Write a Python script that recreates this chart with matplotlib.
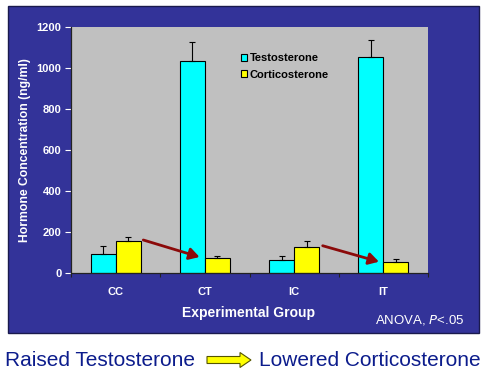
import matplotlib
matplotlib.use("Agg")
import matplotlib.pyplot as plt
import numpy as np
from matplotlib.patches import Rectangle, FancyArrow

groups = ["CC", "CT", "IC", "IT"]
testosterone = [93, 1036, 65, 1052]
testosterone_err = [40, 92, 20, 86]
corticosterone = [155, 73, 127, 54]
corticosterone_err = [21, 11, 28, 16]
yticks = [0, 200, 400, 600, 800, 1000, 1200]
# red trend arrows (start x, start y, end x, end y) in data units
trend_arrows = [(0.31, 161, 0.94, 78), (2.32, 133, 2.95, 55)]

plt.rcParams['font.family'] = ['Liberation Sans', 'DejaVu Sans']

fig = plt.figure(figsize=(4.87, 3.8), dpi=100)
fig.patch.set_facecolor('white')

panel = Rectangle((8/487, 47/380), 471/487, 327/380, transform=fig.transFigure,
                  facecolor='#333399', edgecolor='#1a1a4d', linewidth=1, zorder=-10)
fig.patches.append(panel)

ax = fig.add_axes([71/487, 107/380, 357/487, 246/380])
ax.set_zorder(5)
ax.set_facecolor('#c0c0c0')

x = np.arange(len(groups))
w = 0.28
ax.bar(x - w/2, testosterone, w, color='#00ffff', edgecolor='black', linewidth=0.8,
       yerr=[[0]*4, testosterone_err], error_kw=dict(ecolor='black', elinewidth=0.8, capsize=2.5, capthick=0.8),
       label='Testosterone', zorder=2)
ax.bar(x + w/2, corticosterone, w, color='#ffff00', edgecolor='black', linewidth=0.8,
       yerr=[[0]*4, corticosterone_err], error_kw=dict(ecolor='black', elinewidth=0.8, capsize=2.5, capthick=0.8),
       label='Corticosterone', zorder=2)

for (x0, y0, x1, y1) in trend_arrows:
    ax.annotate('', xy=(x1, y1), xytext=(x0, y0),
                arrowprops=dict(arrowstyle='-|>,head_length=0.6,head_width=0.35', color='#8b0a0a', lw=2.0,
                                shrinkA=0, shrinkB=0), zorder=3)

ax.set_xlim(-0.5, 3.5)
ax.set_ylim(0, 1200)
ax.set_yticks(yticks)
ax.set_yticklabels([str(v) for v in yticks], color='white', fontweight='bold', fontsize=8)
ax.tick_params(axis='y', colors='white', length=4, width=0.8, labelcolor='white', pad=3)
ax.set_xticks(x)
ax.set_xticklabels(groups, color='white', fontweight='bold', fontsize=8)
ax.tick_params(axis='x', which='major', length=0, pad=10, labelcolor='white')
ax.set_xticks([-0.5, 0.5, 1.5, 2.5, 3.5], minor=True)
ax.tick_params(axis='x', which='minor', length=3, width=0.8, color='#222222')

for s in ['top', 'right']:
    ax.spines[s].set_visible(False)
for s in ['left', 'bottom']:
    ax.spines[s].set_color('#222222')
    ax.spines[s].set_linewidth(0.9)

ax.set_ylabel('Hormone Concentration (ng/ml)', color='white', fontweight='bold', fontsize=8.7, labelpad=4)

leg = ax.legend(loc='upper left', bbox_to_anchor=(0.46, 0.915), frameon=False,
                prop=dict(weight='bold', size=8), handlelength=0.6, handleheight=0.6,
                handletextpad=0.2, labelspacing=0.55, borderpad=0)
for t in leg.get_texts():
    t.set_color('black')

fig.text(249/487, 1 - 313/380, 'Experimental Group', color='white', fontweight='bold',
         fontsize=10, ha='center', va='center')
fig.text(420/487, 1 - 320/380, r'ANOVA, $\mathit{P}$<.05', color='white', fontsize=9.5,
         ha='center', va='center')

fig.text(5/487, 1 - 360/380, 'Raised Testosterone', color='#0c1c8c', fontsize=15,
         ha='left', va='center')
fig.text(481/487, 1 - 360/380, 'Lowered Corticosterone', color='#0c1c8c', fontsize=15,
         ha='right', va='center')

arr = FancyArrow(207/487, 1 - 360/380, 44/487, 0, width=7/380, head_width=15/380,
                 head_length=11/487, length_includes_head=True, transform=fig.transFigure,
                 facecolor='#ffff00', edgecolor='#555500', linewidth=0.8)
fig.patches.append(arr)

fig.savefig('out.png', dpi=100, facecolor='white')
